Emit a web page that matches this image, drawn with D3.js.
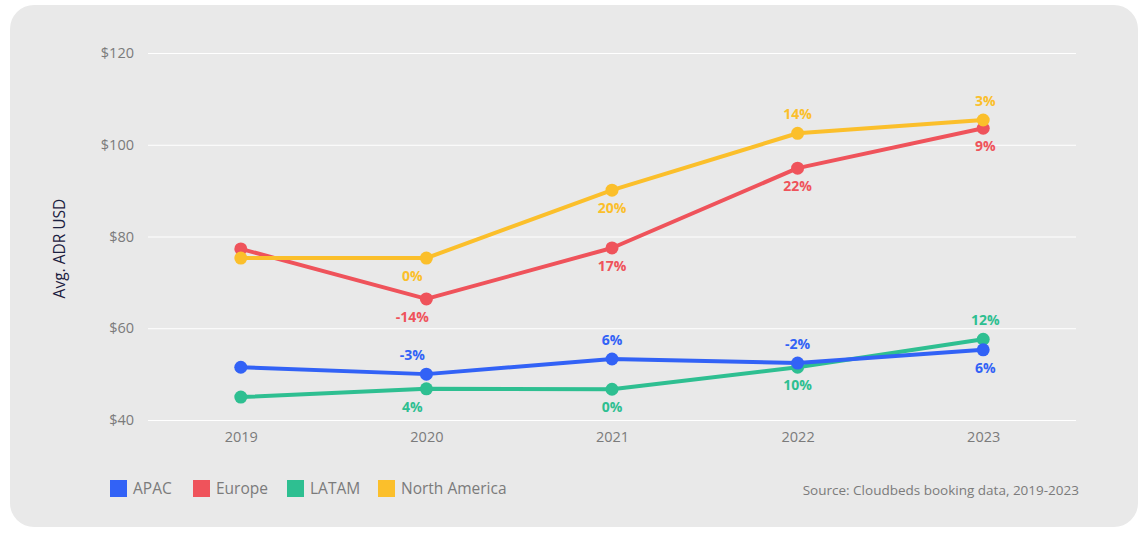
<!DOCTYPE html>
<html><head><meta charset="utf-8">
<script src="https://cdn.jsdelivr.net/npm/d3@7"></script>
<style>
html,body{margin:0;padding:0;background:#fff;}
svg{display:block;font-family:"Open Sans",sans-serif;}
</style></head>
<body><svg id="c" width="1144" height="535"></svg>
<script>
const years = ["2019","2020","2021","2022","2023"];
const seriesNames = ["APAC","Europe","LATAM","North America"];
const seriesColors = ["#3262f6","#ef535b","#2ebf91","#fbbf2b"];
const apac   = [51.5, 50.0, 53.3, 52.4, 55.3];
const europe = [77.3, 66.4, 77.5, 94.9, 103.6];
const latam  = [45.0, 46.8, 46.7, 51.5, 57.6];
const northAmerica = [75.3, 75.3, 90.1, 102.5, 105.4];
const apacLabels   = [null, "-3%", "6%", "-2%", "6%"];
const europeLabels = [null, "-14%", "17%", "22%", "9%"];
const latamLabels  = [null, "4%", "0%", "10%", "12%"];
const naLabels     = [null, "0%", "20%", "14%", "3%"];
const apacPos   = [null, "above", "above", "above", "below"];
const europePos = [null, "below", "below", "below", "below"];
const latamPos  = [null, "below", "below", "below", "above"];
const naPos     = [null, "below", "below", "above", "above"];
const yTicks = [40, 60, 80, 100, 120];
const yTickLabels = ["$40","$60","$80","$100","$120"];
const yTitle = "Avg. ADR USD";
const sourceText = "Source: Cloudbeds booking data, 2019-2023";

(function(){
const series = [
  {name: seriesNames[0], color: seriesColors[0], values: apac, labels: apacLabels, pos: apacPos},
  {name: seriesNames[1], color: seriesColors[1], values: europe, labels: europeLabels, pos: europePos},
  {name: seriesNames[2], color: seriesColors[2], values: latam, labels: latamLabels, pos: latamPos},
  {name: seriesNames[3], color: seriesColors[3], values: northAmerica, labels: naLabels, pos: naPos}
];

const svg = d3.select("#c");
svg.append("rect").attr("x",10).attr("y",5).attr("width",1128).attr("height",522)
  .attr("rx",24).attr("fill","#e9e9e9");

const pl = 148, pr = 1076, pt = 53, pb = 420;
const x = d3.scalePoint().domain(years).range([pl, pr]).padding(0.5);
const y = d3.scaleLinear().domain([40,120]).range([pb, pt]);

const yAxis = d3.axisLeft(y).tickValues(yTicks).tickSize(-(pr-pl))
  .tickFormat((d,i)=>yTickLabels[i]).tickPadding(14);
const gy = svg.append("g").attr("transform",`translate(${pl},0)`).call(yAxis);
gy.select(".domain").remove();
gy.selectAll(".tick line").attr("stroke","#ffffff").attr("stroke-width",1);
gy.selectAll(".tick text").attr("fill","#7b7b7b").attr("font-size",14.5).attr("font-family","'Open Sans',sans-serif");

const xAxis = d3.axisBottom(x).tickSize(0).tickPadding(12);
const gx = svg.append("g").attr("transform",`translate(0,${pb})`).call(xAxis);
gx.select(".domain").remove();
gx.selectAll(".tick text").attr("fill","#7b7b7b").attr("font-size",14.5).attr("font-family","'Open Sans',sans-serif");

svg.append("text").attr("transform",`translate(65,${(pt+pb)/2+12}) rotate(-90)`)
  .attr("text-anchor","middle").attr("fill","#1b2040").attr("font-size",15.5).text(yTitle);

const line = d3.line().x((d,i)=>x(years[i])).y(d=>y(d));

const order = [2,0,1,3];
order.forEach(k=>{
  const s = series[k];
  const g = svg.append("g");
  g.append("path").attr("d", line(s.values)).attr("fill","none")
    .attr("stroke", s.color).attr("stroke-width",4).attr("stroke-linejoin","round");
  g.selectAll("circle").data(s.values).join("circle")
    .attr("cx",(d,i)=>x(years[i])).attr("cy",d=>y(d)).attr("r",6.5).attr("fill",s.color);
});
series.forEach(s=>{
  const pts = s.values.map((v,i)=>({v, i})).filter(p=>s.labels[p.i]!==null);
  svg.append("g").selectAll("text").data(pts).join("text")
    .attr("x",p=>x(years[p.i]) + (p.i===1 ? -14 : (p.i===4 ? 2 : 0)))
    .attr("y",p=> y(p.v) + (s.pos[p.i]==="above" ? -14 : 23))
    .attr("text-anchor","middle").attr("fill",s.color)
    .attr("font-size",14).attr("font-weight",700)
    .text(p=>s.labels[p.i]);
});

const legendX = [110, 193, 287, 378];
const lg = svg.append("g");
series.forEach((s,i)=>{
  lg.append("rect").attr("x",legendX[i]).attr("y",480).attr("width",17).attr("height",17).attr("fill",s.color);
  lg.append("text").attr("x",legendX[i]+23).attr("y",494).attr("fill","#7b7b7b").attr("font-size",15.5).text(s.name);
});

svg.append("text").attr("x",1079).attr("y",495).attr("text-anchor","end")
  .attr("fill","#7b7b7b").attr("font-size",13.5).text(sourceText);
})();
</script></body></html>
